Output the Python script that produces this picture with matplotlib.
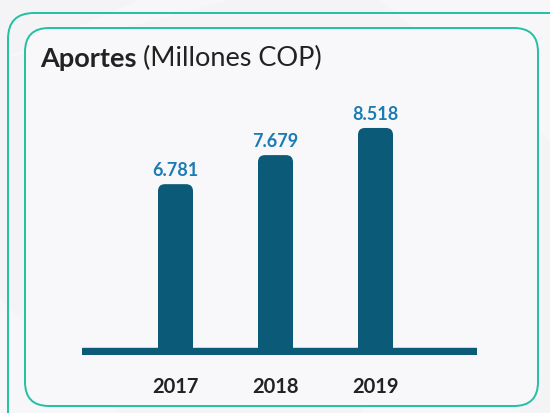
import matplotlib
matplotlib.use("Agg")
import matplotlib.pyplot as plt
from matplotlib.patches import FancyBboxPatch, Polygon

# data
years = ["2017", "2018", "2019"]
aportes = [6781, 7679, 8518]
value_labels = ["6.781", "7.679", "8.518"]

BAR_COLOR = "#0a5a78"
VALUE_COLOR = "#1b7cb3"
BORDER_COLOR = "#22c0a2"
TEXT_COLOR = "#222222"

plt.rcParams['font.family'] = ['Lato', 'DejaVu Sans']

fig = plt.figure(figsize=(5.5, 4.13), dpi=100)
fig.patch.set_facecolor("#f4f4f6")

# background / frame layer in pixel units
bg = fig.add_axes([0, 0, 1, 1])
bg.set_xlim(0, 550)
bg.set_ylim(413, 0)
bg.axis("off")

# faint geometric texture
for pts in [[(0, 60), (140, 0), (230, 0)], [(380, 0), (550, 140), (550, 0)],
            [(360, 413), (470, 250), (520, 413)], [(0, 300), (120, 413), (0, 413)]]:
    bg.add_patch(Polygon(pts, closed=True, facecolor="white", alpha=0.35,
                         edgecolor="none", zorder=0))

outer = FancyBboxPatch((8, 13), 600, 450, boxstyle="round,pad=0,rounding_size=26",
                       facecolor="none", edgecolor=BORDER_COLOR, lw=1.4, zorder=1)
inner = FancyBboxPatch((25, 28), 513, 378, boxstyle="round,pad=0,rounding_size=24",
                       facecolor="#f8f8fa", edgecolor=BORDER_COLOR, lw=1.4, zorder=1)
bg.add_patch(outer)
bg.add_patch(inner)

t1 = bg.text(40, 67, "Aportes", fontsize=19.5, fontweight="bold",
             color=TEXT_COLOR, va="baseline", ha="left", zorder=3)
bg.annotate(" (Millones COP)", xy=(1, 0), xycoords=t1, fontsize=19.5,
            color=TEXT_COLOR, va="bottom", ha="left", zorder=3)

# chart axes (the original chart does not start its bars at zero)
W, H = 550, 413
left_px, right_px = 82, 477
top_px, bottom_px = 100, 355
base_value = 1718
ax = fig.add_axes([left_px / W, 1 - bottom_px / H,
                   (right_px - left_px) / W, (bottom_px - top_px) / H])
ax.set_facecolor("none")
ax.set_xlim(-0.935, 3.015)
ax.set_ylim(1502, 9382)
for s in ax.spines.values():
    s.set_visible(False)
ax.set_yticks([])

x = list(range(len(years)))
bar_w = 0.35

# aspect between data units in y and x (pixels)
fig.canvas.draw()
p0 = ax.transData.transform((0, 0))
p1 = ax.transData.transform((1, 1000))
px_per_x = p1[0] - p0[0]
px_per_y = (p1[1] - p0[1]) / 1000
aspect = px_per_x / px_per_y
round_x = 7 / px_per_x

for xi, v, lab in zip(x, aportes, value_labels):
    bot = 0
    patch = FancyBboxPatch((xi - bar_w / 2, bot), bar_w, v - bot,
                           boxstyle=f"round,pad=0,rounding_size={round_x}",
                           mutation_aspect=aspect,
                           facecolor=BAR_COLOR, edgecolor="none", zorder=2)
    ax.add_patch(patch)
    ax.annotate(lab, xy=(xi, v), xytext=(0, 6), textcoords="offset points",
                ha="center", va="baseline", fontsize=13, fontweight="bold",
                color=VALUE_COLOR)

# base line
ax.axhspan(1502, base_value, color=BAR_COLOR, zorder=3)
ax.set_xlim(-0.935, 3.015)
ax.set_ylim(1502, 9382)

ax.set_xticks(x)
ax.set_xticklabels(years, fontsize=14.5, fontweight="bold", color=TEXT_COLOR)
ax.tick_params(axis="x", length=0, pad=16)

fig.savefig("out.png", dpi=100, facecolor=fig.get_facecolor())
